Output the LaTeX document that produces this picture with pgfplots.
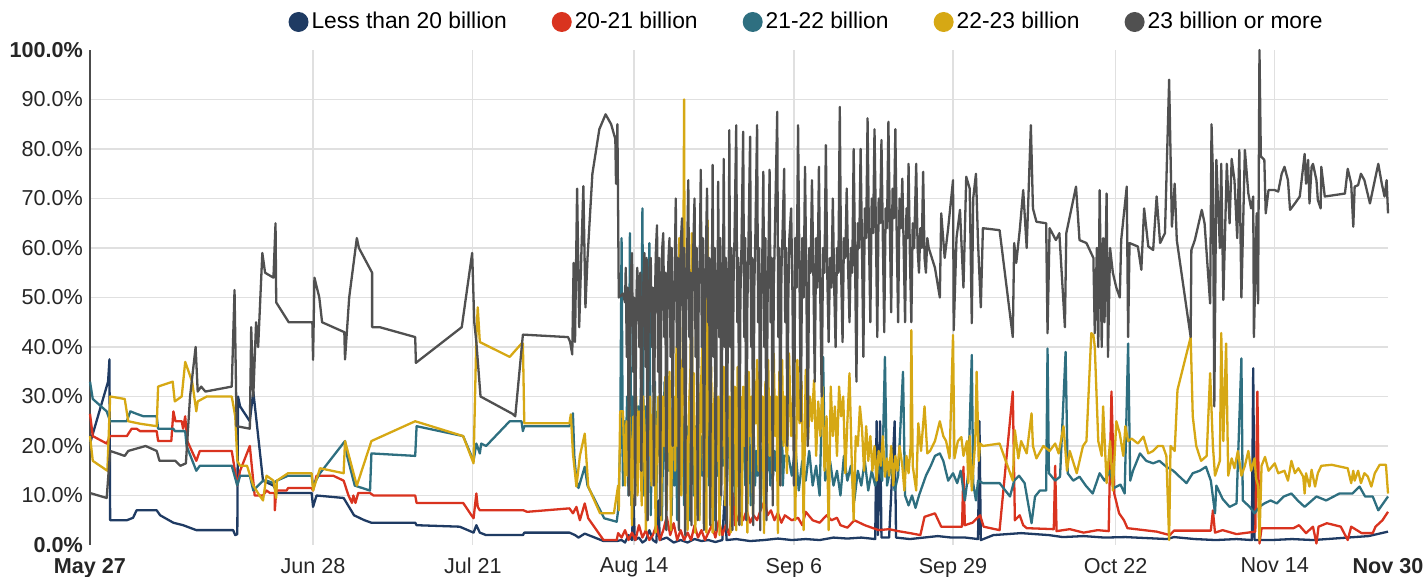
\documentclass[border=0pt]{standalone}
\usepackage{fontspec}
\setmainfont{Liberation Sans}
\usepackage{pgfplots}
\pgfplotsset{compat=1.18}
\definecolor{navyc}{HTML}{1F3B63}
\definecolor{redc}{HTML}{D9331F}
\definecolor{tealc}{HTML}{2E6F80}
\definecolor{goldc}{HTML}{D6A814}
\definecolor{grayc}{HTML}{505050}
\begin{document}
\begin{tikzpicture}
\begin{axis}[
  at={(0,0)}, anchor=south west,
  width=649pt, height=247.5pt, scale only axis,
  xmin=0, xmax=186.8, ymin=0, ymax=100,
  clip=false,
  axis x line*=bottom, axis y line*=left,
  x axis line style={draw=none},
  y axis line style={black!70, line width=0.8pt},
  major tick length=0pt,
  grid=major,
  grid style={black!12, line width=0.6pt},
  xtick={32.1,55.1,78.3,101.3,124.2,147.6,170.5},
  xticklabels={Jun 28,Jul 21,Aug 14,Sep 6,Sep 29,Oct 22,Nov 14},
  extra x ticks={0,186.8},
  extra x tick labels={\textbf{May 27},\textbf{Nov 30}},
  extra x tick style={grid=none},
  ytick={10,20,30,40,50,60,70,80,90},
  yticklabels={10.0\%,20.0\%,30.0\%,40.0\%,50.0\%,60.0\%,70.0\%,80.0\%,90.0\%},
  extra y ticks={0,100},
  extra y tick labels={\textbf{0.0\%},\textbf{100.0\%}},
  extra y tick style={grid=none},
  ticklabel style={font=\fontsize{10.8}{12}\selectfont, text=black!85},
  xticklabel style={yshift=-3pt},
  every axis plot/.append style={line width=1.15pt, line join=round, mark=none},
  legend columns=5,
  legend style={at={(axis description cs:0.5524,1)}, anchor=center, yshift=14pt,
    draw=none, fill=none, font=\fontsize{11.4}{13}\selectfont,
    nodes={inner sep=1.5pt},
    /tikz/every even column/.append style={column sep=21pt}},
  legend cell align=left,
  legend image code/.code={\fill[#1] (0pt,0pt) circle (5pt);},
]
\addlegendimage{fill=navyc, draw=none}
\addlegendimage{fill=redc, draw=none}
\addlegendimage{fill=tealc, draw=none}
\addlegendimage{fill=goldc, draw=none}
\addlegendimage{fill=grayc, draw=none}
\legend{Less than 20 billion,20-21 billion,21-22 billion,22-23 billion,23 billion or more}

% Less than 20 billion
\addplot[navyc, forget plot] coordinates {
(0,20.5)(2.6,33)(2.8,37.5)(2.9,5)(5.3,5)(6.2,5.5)(6.7,7)(9.6,7)(10.1,6)(12,4.5)(13.4,4)(15.3,3)(20.6,3)(20.9,2)(21.2,2.2)(21.3,30)(21.6,28)(23,25)(23.5,31)(24.9,13)(26.4,12)(27,10.5)(31.9,10.5)(32.1,7.7)(32.6,10)(36.5,9.5)(38,6)(39.5,5)(40.5,4.5)(46.8,4.5)(47,4)(53.2,3.7)(55.2,2.5)(55.6,4)(56.1,2.5)(57,2)(62.3,2)(62.5,2.5)(69,2.5)(69.8,2)(70.3,1.5)(71.2,2.3)(73.9,0.8)(75.8,0.8)
(76.5,1)(77,0.5)(77.5,2)(78,1)(78.2,10)(78.4,1)(79,1.5)(79.5,0.5)(80,1)(80.5,3)(81,1)(81.5,0.5)(81.8,9)(82,1)(83,1.5)(84,0.5)(85,1)(86,0.5)(87,1.2)(88,0.8)(89,1)(90,0.6)(91,1)(91.4,11.8)(91.6,1)(93,1.2)(95,0.8)(97,1)(99,1.3)(101,1)(103,1.2)(105,1)(107,1.5)(109,1.3)(111,1.5)(113,1.2)(113.2,25)(113.4,2)(113.7,25)(113.9,1.5)(115,1.5)(115.8,25)(116,1.5)(118,1.2)(120,1.5)(122,1.8)(124,1.5)(126,1.5)(127.8,1.2)(128,25)(128.2,1)(130,2)(132,2.2)(134,2.4)(136,2.2)(138,2)(140,1.6)(143,1.8)(146,1.5)(149,1.6)(152,1.4)(155,1.2)(156,1.6)(159,1.2)(162,1)(165,1.2)(167.2,1)(167.4,35.7)(167.6,1)(170,1)(173,1.2)(176,1)(179,1.3)(182,1.6)(184,1.8)(186.8,2.7)
};

% 20-21 billion
\addplot[redc, forget plot] coordinates {
(0,26.5)(0.4,22)(2.4,20.5)(2.9,22)(5.3,22)(6,23.5)(6.7,23.5)(7.2,23)(9.6,23)(9.8,21)(11.7,21)(12,27)(12.3,25)(13.2,25)(13.4,23.5)(13.7,26)(14,21)(15.3,17)(15.8,19)(20.4,19)(21.2,12)(21.6,15)(23,20)(23.7,10)(24.9,10)(25.4,11)(25.9,10.5)(26.6,10.5)(26.6,7)(26.8,11)(28.3,11)(28.5,11.5)(31.9,11.5)(32.1,11)(32.6,14)(35,14)(36.5,13)(37.2,10)(37.7,8.5)(37.9,10)(38.2,8.5)(38.6,10.5)(40.3,10.5)(40.8,10)(46.8,10)(47,8.5)(53.7,8.5)(54.9,6)(55.2,5.4)(55.6,10.4)(55.8,7.7)(56.1,7)(62.4,7)(62.9,6.7)(69,7.4)(69.5,6.4)(70,7.7)(70.5,5)(71.2,8.4)(71.7,5.4)(73.9,1)(75.8,1)(76,2.4)
(76.5,1.5)(77,3)(77.5,1)(78,2.5)(78.5,1)(79,4)(79.5,1.5)(80,3)(80.5,1)(81,2)(81.5,4)(82,1)(82.5,3)(83,5.7)(83.5,2)(84,4.4)(84.5,1)(85,3)(85.5,1)(86,2.5)(86.5,1)(87,4)(87.5,1.5)(88,3)(88.5,1)(89,2.5)(89.5,4)(90,1.5)(90.5,5)(91,2)(91.5,4)(92,2)(92.6,10.4)(92.8,4)(93.5,6.5)(94,5)(94.5,7)(95,4.5)(95.5,6)(96,5)(96.5,7)(97.1,9)(97.5,6)(98,7)(98.5,5)(99,6.5)(99.5,4.5)(100,6)(101,5)(101.9,5.5)(102.5,4)(103,6.7)(104,5)(105,4.5)(106,6)(106.7,5)(107.5,5.5)(108,4)(109,3.5)(110,5)(111.5,4)(112.5,3.5)(113.5,3)(115,3.2)(116.3,2.8)(118,2.4)(119.5,2)(120.1,5.7)(121.6,6.4)(122.5,3.7)(124,3.7)(125.5,3.7)(125.7,15.8)(125.9,4)(127,4.5)(128.1,6)(128.6,3.7)(130.9,3)(132.8,31)(133.1,5)(133.8,6)(134.3,4)(134.8,3.4)(138.7,3.2)(138.9,16)(139.1,2.8)(141,3.2)(143,2.5)(145,3)(146.6,2.8)(147,31)(147.4,10.4)(148.1,6.4)(148.8,5)(149.3,3.4)(153.5,2.7)(155.4,2)(156,2.9)(161.3,2.9)(161.6,7)(161.9,2.5)(163,3)(165,2.2)(167.7,2.7)(168,31)(168.3,0.3)(168.6,3.4)(173.2,3.4)(174,4)(175,2.4)(176,3.7)(176.5,0.3)(176.8,3.7)(178,4.4)(180,3.7)(181,1)(181.5,3.7)(183,2.4)(184.6,2.4)(185,3.7)(186,5)(186.8,6.7)
};

% 21-22 billion
\addplot[tealc, forget plot] coordinates {
(0,33)(0.4,29.5)(2.4,27)(2.9,25)(5.3,25)(5.8,27)(6.7,26.5)(7.7,26)(9.6,26)(9.8,23.5)(12,23.5)(12.2,23)(13.7,23)(13.9,20)(15.3,15)(15.8,16)(20.4,16)(21.2,12)(21.6,14)(23,14)(23.5,11)(24.9,13)(25.4,13)(26.4,12.5)(26.9,13)(28.5,14)(31.9,14)(32.1,12)(33.1,14.5)(36.7,21)(37,18)(38.1,12)(40.3,11)(40.5,18.5)(46.8,18)(47,24)(53.7,22)(55.2,17)(55.6,20.5)(56.1,18.5)(56.3,20.5)(57,20)(60.4,25)(62.1,25)(62.3,23)(62.5,24)(69,24)(69.5,26.6)(69.7,18)(70,13)(70.3,11.5)(71.2,15.8)(71.6,12)(74,5.4)(75.8,4.7)(76,7)
(76.3,20)(76.5,62)(76.7,12)(76.9,25)(77.1,18)(77.3,30)(77.5,10)(77.7,63)(77.9,8)(78.1,30)(78.3,18)(78.5,35)(78.7,12)(78.9,28)(79.1,20)(79.3,33)(79.5,68)(79.7,10)(79.9,28)(80.1,15)(80.3,32)(80.5,61)(80.7,6)(80.9,25)(81.1,14)(81.3,33)(81.5,9)(81.7,27)(81.9,18)(82.1,30)(82.3,5)(82.5,22)(82.7,33)(82.9,8)(83.1,26)(83.3,15)(83.5,30)(83.7,6)(83.9,24)(84.1,12)(84.3,28)(84.5,5)(84.7,20)(84.9,30)(85.1,14)(85.3,26)(85.5,8)(85.7,30)(85.9,15)(86.1,24)(86.3,5)(86.5,20)(86.7,28)(86.9,10)(87.1,24)(87.3,16)(87.5,30)(87.7,6)(87.9,22)(88.1,14)(88.3,26)(88.5,5)(88.7,20)(88.9,28)(89.1,12)(89.3,22)(89.5,16)(89.7,26)(89.9,5)(90.1,20)(90.3,14)(90.5,25)(90.7,8)(90.9,22)(91.1,16)(91.3,24)(91.5,10)(91.7,20)(91.9,26)(92.1,12)(92.3,22)(92.5,18)(92.7,28)(92.9,8)(93.1,20)(93.3,15)(93.5,24)(93.7,10)(93.9,19)(94.1,30)(94.3,12)(94.5,20)(94.7,14)(94.9,22)(95.1,8)(95.3,18)(95.5,24)(95.7,12)(95.9,19)(96.1,14)(96.3,22)(96.5,7)(96.7,18)(96.9,22)(97.1,13)(97.3,19)(97.5,15)(97.7,21)(97.9,12)(98.1,18)(98.3,14)(98.5,19)(98.7,15)(98.9,20)(99.1,13)(99.3,17)(99.5,34.7)(99.7,12)(99.9,18)
(100.5,18)(101,14)(101.5,20)(102,11)(102.5,17)(103,13)(103.5,19)(104,12)(104.5,16)(105,10)(105.5,38)(105.8,13)(106.5,17)(107,12)(107.5,15)(108,10)(108.5,18)(109,13)(109.5,16)(110,9)(110.5,15)(111,12)(111.5,17)(112,11)(112.5,15)(113,12)(113.5,16)(114,13)(114.4,38)(114.7,12)(115.3,16)(115.8,11)(116.3,14)(117,35)(117.3,10)(117.8,8)(118.3,10)(118.8,7.5)(119.3,10)(119.8,12)(120.3,14)(121,16)(121.6,18)
(122.3,18.5)(122.8,17)(123.5,13)(124.2,14.5)(124.8,12.5)(125.3,15)(125.9,9)(126.4,14.5)(126.9,38.4)(127.1,12.5)(127.5,9)(127.8,13)(128.5,12.5)(130.9,12.5)(132.4,9.8)(133,13)(133.7,14)(134.5,12.5)(135.5,4.4)(136,9.8)(136.7,11)(137.6,11)(137.8,39.7)(138,14.5)(138.9,13)(139.6,13.8)(140.4,39)(140.7,14.5)(141.5,13)(142.4,13.8)(143.3,12)(144.3,10.4)(145.3,14.5)(146,13)(146.8,15)(147.3,11.5)(148.3,12.2)(148.9,10.4)(149.4,40.7)(149.7,13)(150.1,15)(151.1,18.5)(152,17)(153,16.5)(153.9,17)(154.9,15.8)(155.9,15)(156.8,13.8)(157.8,12.5)(158.7,14.5)(159.7,15)(160.6,15.8)(161.3,13)(161.9,6.4)(162.1,12)(163,9.3)(164,7.7)(165,8.4)(165.7,37.7)(165.9,9)(166.9,7.7)(167.6,6.4)(168.3,7.7)(169,8.4)(169.9,9)(170.8,8.4)(171.8,9.8)(172.9,10.4)(173.8,9)(174.8,7.7)(176.5,9.8)(177.9,9)(179.8,10.4)(181.7,10.4)(182.7,11.8)(183.5,9.8)(184.6,9.8)(185.4,7)(186.8,9.8)
};

% 22-23 billion
\addplot[goldc, forget plot] coordinates {
(0,22)(0.4,17)(2.5,15)(2.9,30)(5,29.5)(5.5,25)(7.2,24.5)(9.6,24)(9.8,32)(11.9,33)(12.2,29)(13.2,30)(13.7,37)(14.2,35)(14.7,33)(15.3,27)(15.5,29)(16.8,30)(20.4,30)(20.9,26)(21.2,17)(21.6,16)(22.6,16)(23.5,12)(24.4,10)(24.9,9)(25.4,14)(26.4,13)(26.8,9.5)(26.9,13)(28.5,14.5)(31.9,14.5)(32.1,11)(33.1,15.5)(36.5,14.5)(36.7,21)(38.4,12)(40.5,21)(46.8,25)(53.7,22)(55.2,16.5)(55.6,42)(55.8,48)(56.1,41)(60.4,38)(62.1,40.7)(62.3,40.7)(62.5,24.6)(69,24.6)(69.2,26.4)(69.5,18.5)(70,11.8)(70.5,18)(71.2,22.5)(71.7,11.8)(73.4,6.4)(75.4,6.4)(76,12)(76.1,7)(76.3,27)(76.7,27)
(77,12)(77.2,25)(77.4,14)(77.6,28)(77.8,20)(78,4)(78.2,26)(78.4,18)(78.6,30)(78.8,10)(79,27)(79.2,20)(79.4,8)(79.6,30)(79.8,22)(80,3)(80.2,28)(80.4,18)(80.6,30)(80.8,12)(81,25)(81.2,32)(81.4,2.5)(81.6,22)(81.8,30)(82,15)(82.2,5)(82.4,30)(82.6,20)(82.8,34)(83,7)(83.2,26)(83.4,35)(83.6,3)(83.8,24)(84,30)(84.2,15)(84.4,40)(84.6,20)(84.8,62)(84.9,41)(85.1,10)(85.3,30)(85.5,90)(85.6,34.7)(85.8,18)(86,3)(86.2,28)(86.4,35)(86.6,63)(86.7,20)(86.9,34.7)(87.1,2.5)(87.3,21)(87.5,34.7)(87.7,5)(87.9,30)(88.1,40)(88.3,15)(88.5,32)(88.7,2.5)(88.9,65.6)(89,31)(89.2,22)(89.4,36)(89.6,2.5)(89.8,28)(90,34)(90.2,17)(90.4,30)(90.6,2)(90.8,30.6)(91,20)(91.2,36)(91.4,8)(91.6,35)(91.8,22)(92,30)(92.2,2.5)(92.4,37.4)(92.6,25)(92.8,32)(93,3)(93.2,36)(93.4,22)(93.6,30)(93.8,4)(94,32)(94.2,20)(94.4,35)(94.6,2.5)(94.8,35)(95,22)(95.2,30)(95.4,6)(95.6,33)(95.8,24.6)(96,37.4)(96.2,15)(96.4,35)(96.6,22)(96.8,30)(97,2.4)(97.2,33)(97.4,20)(97.6,37.4)(97.8,18)(98,30)(98.2,14.5)(98.4,38.7)(98.6,22)(98.8,30)(99,2.4)(99.2,35)(99.4,24.6)(99.6,37.4)(99.8,20)
(100,30)(100.3,14.5)(100.6,38.7)(100.9,22)(101.2,30)(101.5,5)(101.8,37.4)(102.1,24.6)(102.4,33)(102.7,3)(103,35.4)(103.3,20)(103.6,30)(103.9,25)(104.2,33.3)(104.5,18)(104.8,29)(105.1,22)(105.4,32)(105.7,15)(106,26)(106.3,3)(106.6,32)(106.9,22)(107.2,28)(107.5,18)(107.8,32)(108.1,26)(108.4,30)(108.7,14.5)(109,25)(109.3,34.7)(109.6,18)(109.9,5)(110.2,22)(110.5,20)(110.8,28)(111.1,23.5)(111.4,15)(111.7,24)(112,17)(112.3,22)(112.6,15)(112.9,20)(113.2,13)(113.5,19)(113.8,16)(114.1,22)(114.4,13.8)(114.7,17.5)(115,14)(115.3,20)(115.6,12)(115.9,18)(116.2,15)(116.5,20)(116.9,16)(117.2,11)(117.5,18)(117.8,14.5)(118.1,20)(118.2,43.4)(118.4,16)(118.9,11)(119.2,24.6)(119.6,19)(120.1,28)(120.5,18.5)
(120.9,19)(121.6,21)(122.3,25)(122.8,22)(123.2,21)(123.7,17.5)(124.2,42.4)(124.4,17.5)(124.9,21)(125.4,21.8)(125.7,18)(126.2,21)(126.4,12.5)(126.6,22)(126.9,11)(127.4,21)(127.6,35)(127.9,17)(128.1,20.5)(128.5,20)(130.9,20.5)(132.8,13)(133.1,23.2)(133.6,17.5)(134,21)(134.8,18.5)(135.5,26.6)(135.7,20)(136.2,17.5)(137.2,20)(138.1,19)(138.9,20.5)(139.4,18.5)(140.1,24)(140.6,15)(141,19)(142,14.5)(142.9,20)(143.4,21)(144.1,42.8)(144.4,42.4)(144.6,40)(145.1,21)(145.6,18)(145.8,28)(146.3,12.5)(146.8,21)(147.2,11)(147.7,25)(148.2,22.5)(148.7,18)(149,24)(149.4,21)(149.9,21.5)(150.8,20.5)(151.6,21.9)(152.3,18.5)(153,19)(153.7,20)(154.4,20)(154.9,18)(155.3,1)(155.5,20)(156.1,19)(156.5,31.3)(158.4,42)(158.7,26)(159.2,20)(159.9,17)(160.7,18)(161.2,34.7)(161.6,20)(161.9,14)(162.6,17)(162.8,42.8)(163.1,21)(163.5,40.7)(163.8,14)(164.3,17.5)(164.7,15.5)(165.2,19)(165.7,14)(166.2,16)(166.7,19)(167.1,15)(167.6,17.5)(167.8,13.5)(168.1,12)(168.3,1)(168.6,16)(169.1,17.8)(169.6,15)(170.5,16.5)(171,14.5)(171.9,15)(172.4,13)(172.9,17)(173.4,14.5)(173.9,15.5)(174.6,13.8)(174.8,10.4)(175,14.5)(175.5,11.8)(175.8,15.2)(176.3,11.8)(176.7,14.5)(177.2,16)(178.7,16.2)(181,15.5)(181.5,12.5)(181.8,15)(182,13)(182.5,15)(182.9,12.5)(183.4,14.5)(183.9,13.8)(184.4,11.8)(184.9,14.5)(185.6,16.2)(186.5,16.2)(186.8,10.4)
};

% 23 billion or more
\addplot[grayc, forget plot] coordinates {
(0,10.5)(2.4,9.5)(2.9,19)(5,18)(5.5,19)(8,20)(9.6,19)(10,17)(12.3,17)(13,16)(13.8,16.5)(14.4,30)(15.2,40)(15.5,31)(16,32)(16.6,31)(20.4,32)(20.8,51.5)(21.1,24)(23,23.5)(23.2,44)(23.5,30)(23.9,45)(24.2,40)(24.8,59)(25.2,55)(26.4,54)(26.7,65)(26.8,49)(28.6,45)(32,45)(32.1,37.4)(32.3,54)(33,50)(33.4,45)(36.6,43)(36.7,37.5)(37.3,50)(38.4,62)(38.7,60)(40.6,55)(40.6,44)(41.7,44)(46.8,42)(46.9,36.8)(53.5,44)(55,59)(55.3,45)(55.6,41)(56.2,30)(60.8,26.5)(61.2,26)(62.3,42.5)(68.8,42)(69.1,41)(69.4,38.5)(69.6,57)(69.8,41)(70.1,72)(70.4,44)(71,72.5)(71.3,48)(71.6,58)(72.3,75)(73.3,84)(74.2,87)(75,85)(75.6,82)(75.7,73)(75.9,85)(76.1,50)(76.7,50.8)(77,49)
(77.1,56)(77.25,38)(77.4,52)(77.55,10)(77.7,45)(77.85,55)(78,59)(78.15,35)(78.3,50)(78.45,8)(78.6,48)(78.75,56)(78.9,52)(79.05,40)(79.2,55)(79.35,15)(79.5,42)(79.65,54)(79.8,59)(79.95,36)(80.1,58)(80.25,5)(80.4,46)(80.55,57)(80.7,58)(80.85,40)(81,52)(81.15,12)(81.3,50)(81.45,60)(81.6,64.6)(81.75,35)(81.9,58)(82.05,6)(82.2,45)(82.35,60)(82.5,63)(82.65,42)(82.8,55)(82.95,3)(83.1,50)(83.25,58)(83.4,62)(83.55,38)(83.7,60)(83.85,20)(84,48)(84.15,56)(84.3,70)(84.45,40)(84.6,58)(84.75,3)(84.9,52)(85.05,62)(85.2,66)(85.35,36)(85.5,60)(85.65,2)(85.8,48)(85.95,60)(86.1,73.7)(86.25,42)(86.4,55)(86.55,4)(86.7,50)(86.85,62)(87,70)(87.15,38)(87.3,60)(87.45,5)(87.6,52)(87.75,58)(87.9,75.8)(88.05,40)(88.2,62)(88.35,3)(88.5,48)(88.65,60)(88.8,72)(88.95,45)(89.1,58)(89.25,4)(89.4,50)(89.55,62)(89.6,76.8)(89.75,38)(89.9,60)(90.05,3)(90.2,52)(90.35,58)(90.4,73.4)(90.55,42)(90.7,62)(90.85,10)(91,48)(91.15,64)(91.2,78)(91.35,40)(91.5,58)(91.65,3)(91.8,50)(91.95,60)(92,83.8)(92.15,40)(92.3,60)(92.45,3)(92.6,52)(92.75,62)(93,84.8)(93.15,45)(93.3,58)(93.45,4)(93.6,50)(93.75,60)(94,83.5)(94.15,42)(94.3,62)(94.45,5)(94.6,48)(94.75,60)(95,82.5)(95.15,40)(95.3,58)(95.45,4)(95.6,52)(95.75,62)(96,84.8)(96.15,45)(96.3,60)(96.45,3)(96.6,50)(96.75,58)(96.9,75.4)(97.05,40)(97.2,62)(97.35,5)(97.5,48)(97.65,60)(97.8,75.8)(97.95,45)(98.1,58)(98.25,8)(98.4,52)(98.55,62)(98.9,87.5)(99.05,42)(99.2,60)(99.35,12)(99.5,55)(99.65,62)(99.9,76)(100.05,45)(100.2,60)(100.35,20)(100.5,50)(100.65,62)
(100.9,68)(101.1,50)(101.3,12)(101.5,62)(101.7,52)(101.9,84.8)(102.1,55)(102.3,25)(102.5,62)(102.7,50)(102.9,76.4)(103.1,52)(103.3,20)(103.5,60)(103.7,55)(103.9,73.7)(104.1,55)(104.3,33)(104.5,62)(104.7,52)(104.9,76.4)(105.1,50)(105.3,30)(105.5,60)(105.7,55)(105.9,80.8)(106.1,55)(106.3,41)(106.5,58)(106.7,52)(106.9,70)(107.1,52)(107.3,40)(107.5,60)(107.7,55)(107.9,88.5)(108.1,55)(108.3,41)(108.5,62)(108.7,58)(108.9,72)(109.1,56)(109.3,45)(109.5,60)(109.7,55)(109.9,80)(110.1,58)(110.3,33)(110.5,65)(110.7,60)(110.9,80)(111.1,60)(111.3,38)(111.5,68)(111.7,62)(111.9,86.2)(112.1,62)(112.3,45)(112.5,70)(112.7,63)(112.9,84)(113.1,64)(113.3,42)(113.5,70)(113.7,65)(113.9,81.8)(114.1,62)(114.3,43)(114.5,68)(114.7,64)(114.9,85.5)(115.1,65)(115.3,47)(115.5,72)(115.7,66)(115.9,84)(116.1,62)(116.3,45)(116.5,70)(116.7,64)(116.9,74)(117.1,60)(117.3,45)(117.5,68)(117.65,62)(117.8,77)(118,58)(118.2,45)(118.4,65)(118.6,60)(118.9,77)(119.1,60)(119.3,55)(119.5,64)(119.7,60)(119.9,75.4)(120.1,58)(120.3,55)(120.5,62)(120.7,60)
(121.6,56)(122.3,50)(122.5,67)(123,58)(123.5,64)(124.2,73.7)(124.3,43.4)(124.7,62)(125.2,67.7)(125.7,52)(126.1,74.4)(126.6,72)(126.9,44.8)(127.1,70)(127.5,75)(127.8,61)(128.2,48)(128.5,64)(130.9,63.6)(132.8,42)(133,61)(133.3,57)(133.8,63.6)(134.3,71.7)(134.8,60)(135.4,84.8)(135.7,68)(136.2,65.3)(137.6,65)(137.8,42.8)(138.1,64)(139,61.6)(139.5,63)(140.3,44)(140.5,63)(141.9,72.4)(142.4,61.6)(143.4,61)(144.4,58)(144.6,42.8)(144.9,60)
(145.1,40)(145.3,71.7)(145.6,40)(145.8,62)(146,45)(146.3,71)(146.5,38)(146.8,60)(147.2,55)(147.7,52)(148.2,50)(148.4,61.6)(149.2,72.4)(149.4,42)(149.6,61)(150.8,60.3)(151.3,55.6)(151.7,68)(152.3,60.3)(153,59.6)(153.5,70.4)(154,61)(154.7,63)(155.3,94)(155.7,64.3)(156.1,73)(156.4,61.6)(158.4,42)(158.5,59.6)(159,61.6)(160,67.7)(160.4,65)(161.2,48.8)(161.4,85)(161.6,75)(161.8,28)(162.1,77.8)(162.6,60)(162.8,77)(163.1,49.5)(163.6,77)(164,65)(164.3,78)(164.7,73.7)(165.1,62)(165.4,79.8)(165.7,50)(166.2,79.8)(166.7,71)(167.1,68)(167.4,70.4)(167.5,42)(167.9,67)(168.1,48.8)(168.3,100)(168.5,78.5)(169,77.8)(169.2,67)(169.6,71.7)(170.5,71.7)(171,71.4)(171.5,75)(171.9,76.4)(172.4,73.7)(172.7,67.7)(173.4,69)(174.1,70.4)(174.8,79)(175,73)(175.3,77.8)(175.5,69)(175.8,76.4)(176,77)(176.5,73.7)(176.7,69.7)(177.1,68)(177.2,76.4)(177.7,70.4)(180.6,71)(181,76)(181.5,73)(181.8,64.3)(182,72.4)(182.5,72.7)(182.9,75)(183.4,73.7)(184.2,69)(184.9,73.7)(185.4,77)(185.9,73)(186.3,70.4)(186.6,73.7)(186.8,67)
};
\end{axis}
\pgfresetboundingbox
\path (-45pt,-16pt) rectangle (668.5pt,272.5pt);
\end{tikzpicture}
\end{document}
